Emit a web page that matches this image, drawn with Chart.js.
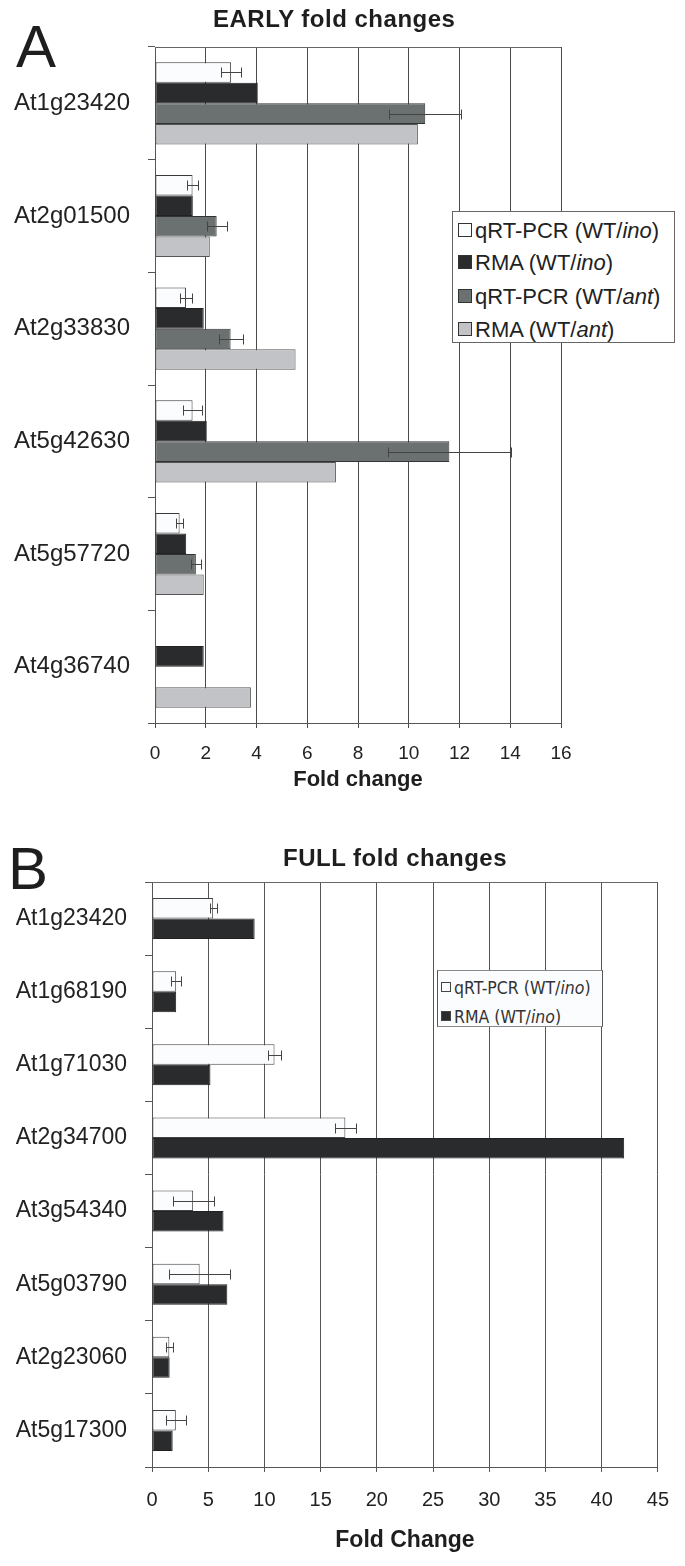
<!DOCTYPE html>
<html><head><meta charset="utf-8">
<script src="https://cdn.jsdelivr.net/npm/chart.js@4/dist/chart.umd.min.js"></script>
<style>
body{margin:0;background:#fff;width:685px;height:1566px;position:relative;overflow:hidden;font-family:'Liberation Sans',Arial,sans-serif;color:#222}
canvas{position:absolute;left:0}
#cA{top:0}
#cB{top:800px}
.t{position:absolute;white-space:nowrap;z-index:2}
.letter{font-size:60px;line-height:60px;color:#1e1e1e}
.title{font-size:24px;line-height:24px;font-weight:bold;letter-spacing:0.5px;color:#1e1e1e}
.legA{position:absolute;left:452px;top:211px;width:221px;height:130px;border:1px solid #666;background:#fff;z-index:2}
.legA .row{position:absolute;left:5px;height:26px;font-size:22px;line-height:26px;color:#222;white-space:nowrap}
.legA .sw{display:inline-block;width:12px;height:12px;border:1px solid #333;vertical-align:middle;margin-right:3px;position:relative;top:-2px}
.legB{position:absolute;left:437px;top:970px;width:164px;height:55px;border-top:1px solid #888;border-bottom:1px solid #888;border-left:1px solid #555;border-right:1px solid #555;background:#fbfcfe;z-index:2}
.legB .row{position:absolute;left:3px;height:22px;font-size:17.5px;line-height:22px;color:#333;white-space:nowrap;font-family:'Liberation Sans Narrow','DejaVu Sans Condensed',Arial,sans-serif}
.legB .sw{display:inline-block;width:8px;height:8px;border:1px solid #444;vertical-align:middle;margin-right:3px;position:relative;top:-2px}
</style></head><body>
<div class="t letter" style="left:16px;top:17px">A</div>
<div class="t title" style="left:213px;top:7px">EARLY fold changes</div>
<div class="t letter" style="left:8px;top:839px">B</div>
<div class="t title" style="left:283px;top:846px">FULL fold changes</div>

<div class="legA">
  <div class="row" style="top:6px"><span class="sw" style="background:#fbfcfe"></span>qRT-PCR (WT/<i>ino</i>)</div>
  <div class="row" style="top:38px"><span class="sw" style="background:#292b2d"></span>RMA (WT/<i>ino</i>)</div>
  <div class="row" style="top:72px"><span class="sw" style="background:#6b7070"></span>qRT-PCR (WT/<i>ant</i>)</div>
  <div class="row" style="top:105px"><span class="sw" style="background:#c1c3c6"></span>RMA (WT/<i>ant</i>)</div>
</div>
<div class="legB">
  <div class="row" style="top:6px"><span class="sw" style="background:#fbfcfe"></span>qRT-PCR (WT/<i>ino</i>)</div>
  <div class="row" style="top:35px"><span class="sw" style="background:#292b2d"></span>RMA (WT/<i>ino</i>)</div>
</div>

<canvas id="cA" width="685" height="800" style="width:685px;height:800px"></canvas>
<canvas id="cB" width="685" height="766" style="width:685px;height:766px"></canvas>

<script>
// ---------- Panel A data (EARLY) ----------
const genesA = ['At1g23420','At2g01500','At2g33830','At5g42630','At5g57720','At4g36740'];
const qpcrInoA    = [3.0, 1.48, 1.22, 1.48, 0.97, null];
const qpcrInoErrA = [0.4, 0.23, 0.22, 0.36, 0.15, null];
const rmaInoA     = [4.05, 1.49, 1.92, 2.04, 1.23, 1.92];
const qpcrAntA    = [10.65, 2.43, 2.98, 11.6, 1.61, null];
const qpcrAntErrA = [1.42, 0.4, 0.47, 2.42, 0.2, null];
const rmaAntA     = [10.36, 2.16, 5.54, 7.13, 1.92, 3.78];
const ticksA = {min: 0, max: 16, step: 2};

// ---------- Panel B data (FULL) ----------
const genesB = ['At1g23420','At1g68190','At1g71030','At2g34700','At3g54340','At5g03790','At2g23060','At5g17300'];
const qpcrInoB    = [5.44, 2.15, 10.9, 17.2, 3.66, 4.24, 1.54, 2.12];
const qpcrInoErrB = [0.3, 0.43, 0.58, 0.92, 1.83, 2.73, 0.3, 0.9];
const rmaInoB     = [9.13, 2.15, 5.2, 42.0, 6.36, 6.7, 1.57, 1.84];
const ticksB = {min: 0, max: 45, step: 5};

const FONT = "'Liberation Sans', Arial, sans-serif";

const errorBars = {
  id: 'errorBars',
  afterDatasetsDraw(chart) {
    const ctx = chart.ctx, xs = chart.scales.x;
    chart.data.datasets.forEach((ds, di) => {
      if (!ds.errors) return;
      const meta = chart.getDatasetMeta(di);
      meta.data.forEach((bar, i) => {
        const v = ds.data[i], e = ds.errors[i];
        if (v == null || e == null) return;
        const x1 = Math.round(xs.getPixelForValue(v - e)) + 0.5;
        const x2 = Math.round(xs.getPixelForValue(v + e)) + 0.5;
        const y = Math.round(bar.y) + 0.5;
        ctx.save();
        ctx.strokeStyle = '#444';
        ctx.lineWidth = 1;
        ctx.beginPath();
        ctx.moveTo(x1, y); ctx.lineTo(x2, y);
        ctx.moveTo(x1, y - 5); ctx.lineTo(x1, y + 5);
        ctx.moveTo(x2, y - 5); ctx.lineTo(x2, y + 5);
        ctx.stroke();
        ctx.restore();
      });
    });
  }
};
const topFrame = {
  id: 'topFrame',
  beforeDatasetsDraw(chart) {
    const {ctx, chartArea: a} = chart;
    ctx.save();
    ctx.strokeStyle = '#666';
    ctx.lineWidth = 1;
    ctx.beginPath();
    ctx.moveTo(a.left, Math.round(a.top) + 0.5);
    ctx.lineTo(a.right, Math.round(a.top) + 0.5);
    ctx.stroke();
    ctx.restore();
  }
};

function barDs(label, data, bg, border, errors) {
  return {label, data, backgroundColor: bg, borderColor: border, borderWidth: 1,
          borderSkipped: false, errors: errors || null};
}

function makeChart(id, labels, datasets, tk, cfg) {
  return new Chart(document.getElementById(id), {
    type: 'bar',
    data: {labels, datasets},
    options: {
      indexAxis: 'y',
      responsive: false,
      animation: false,
      devicePixelRatio: 1,
      layout: {padding: {top: cfg.top, right: cfg.right, bottom: 0, left: 0}},
      datasets: {bar: {categoryPercentage: cfg.catPct, barPercentage: 1}},
      plugins: {legend: {display: false}, tooltip: {enabled: false}, title: {display: false}},
      scales: {
        x: {
          type: 'linear', min: tk.min, max: tk.max,
          ticks: {stepSize: tk.step, color: '#222', padding: cfg.xTickPad,
                  font: {family: FONT, size: cfg.xTickSize}},
          grid: {color: cfg.gridColor, lineWidth: 1, drawTicks: true, tickLength: 5},
          border: {display: true, color: '#555'},
          title: {display: true, text: cfg.xTitle, color: '#1e1e1e',
                  font: {family: FONT, size: cfg.xTitleSize, weight: 'bold'},
                  padding: {top: 0, bottom: cfg.xTitlePadB}},
          afterFit(s) { s.height = cfg.xHeight; }
        },
        y: {
          type: 'category', offset: true,
          ticks: {color: '#222', padding: 18, font: {family: FONT, size: cfg.yTickSize}},
          grid: {display: true, drawOnChartArea: false, drawTicks: true, tickLength: 7, offset: true, color: '#555'},
          border: {display: true, color: '#555'},
          afterFit(s) { s.width = cfg.left; }
        }
      }
    },
    plugins: [topFrame, errorBars]
  });
}

makeChart('cA', genesA, [
  barDs('qRT-PCR (WT/ino)', qpcrInoA, '#fbfcfe', '#3a3a3a', qpcrInoErrA),
  barDs('RMA (WT/ino)', rmaInoA, '#292b2d', '#222', null),
  barDs('qRT-PCR (WT/ant)', qpcrAntA, '#6b7070', '#333', qpcrAntErrA),
  barDs('RMA (WT/ant)', rmaAntA, '#c1c3c6', '#555', null)
], ticksA, {top: 47, right: 124, left: 155, catPct: 0.73, xTickPad: 14, xTickSize: 19,
            gridColor: '#4a4a4a', xTitle: 'Fold change', xTitleSize: 22, xTitlePadB: 7,
            xHeight: 77, yTickSize: 24});

makeChart('cB', genesB, [
  barDs('qRT-PCR (WT/ino)', qpcrInoB, '#fbfcfe', '#444', qpcrInoErrB),
  barDs('RMA (WT/ino)', rmaInoB, '#292b2d', '#222', null)
], ticksB, {top: 82, right: 25, left: 152, catPct: 0.56, xTickPad: 16, xTickSize: 20,
            gridColor: '#555', xTitle: 'Fold Change', xTitleSize: 23, xTitlePadB: 12,
            xHeight: 99, yTickSize: 23});
</script>
</body></html>
